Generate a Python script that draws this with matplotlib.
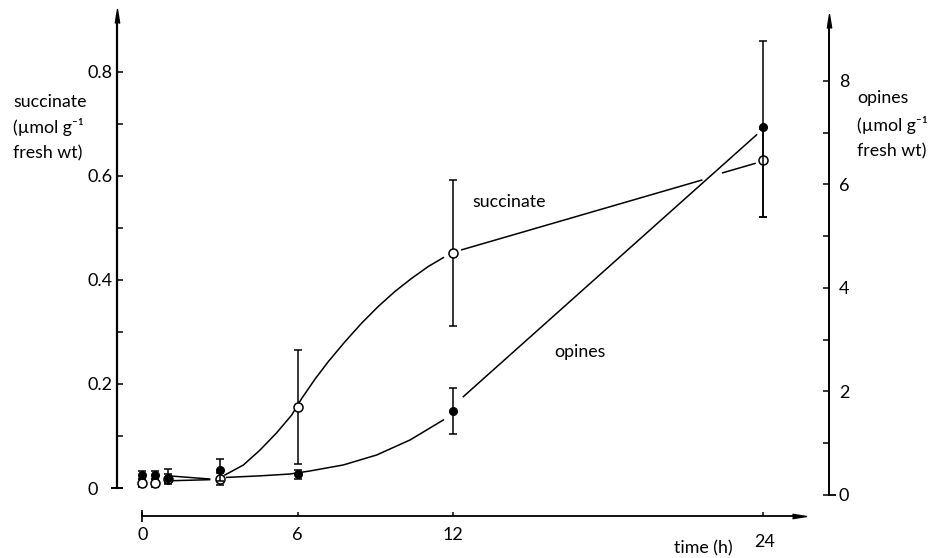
import matplotlib
matplotlib.use("Agg")
import matplotlib.pyplot as plt

plt.rcParams['font.family'] = ['Lato', 'DejaVu Sans']

# ---------------- data ----------------
times = [0, 0.5, 1, 3, 6, 12, 24]
succinate = [0.010, 0.010, 0.018, 0.017, 0.156, 0.452, 0.631]
succinate_err_low = [0.008, 0.008, 0.008, 0.012, 0.110, 0.140, 0.110]
succinate_err_high = [0.008, 0.008, 0.008, 0.012, 0.110, 0.140, 0.060]
opines = [0.39, 0.39, 0.33, 0.48, 0.41, 1.62, 7.12]
opines_err_low = [0.08, 0.08, 0.12, 0.21, 0.10, 0.45, 1.75]
opines_err_high = [0.08, 0.08, 0.17, 0.21, 0.08, 0.45, 1.66]

# hand-drawn fitted curves, drawn as segments
succ_curve_t = [[1.1, 2.6],
                [3.19, 3.9, 4.55, 5.19, 5.77, 6.16, 6.67, 7.19, 7.83, 8.48, 9.12, 9.77,
                 10.41, 11.06, 11.64],
                [12.35, 21.63],
                [22.44, 23.69]]
succ_curve_v = [[0.014, 0.016],
                [0.025, 0.044, 0.073, 0.106, 0.140, 0.172, 0.209, 0.243, 0.281, 0.317,
                 0.349, 0.378, 0.403, 0.426, 0.443],
                [0.458, 0.592],
                [0.606, 0.624]]
opi_curve_t = [[1.1, 2.6],
               [3.26, 4.55, 5.7, 6.48, 7.77, 9.06, 10.35, 11.64],
               [12.41, 23.75]]
opi_curve_v = [[0.367, 0.309],
               [0.34, 0.37, 0.405, 0.464, 0.58, 0.773, 1.063, 1.45],
               [1.90, 6.96]]

x_ticks = [0, 6, 12, 24]
x_ticklabels = ['0', '6', '12', '']
left_ticks = [0, 0.2, 0.4, 0.6, 0.8]
left_ticklabels = ['0', '0.2', '0.4', '0.6', '0.8']
left_minor = [0.1, 0.3, 0.5, 0.7]
right_ticks = [0, 2, 4, 6, 8]
right_ticklabels = ['0', '2', '4', '6', '8']
right_minor = [1, 3, 5, 7]

# ---------------- figure ----------------
W, H = 939, 558
fig = plt.figure(figsize=(W / 100, H / 100), dpi=100)

def fx(px):
    return px / W

def fy(py):
    return 1 - py / H

ax = fig.add_axes([fx(117), fy(516), fx(829) - fx(117), fy(10) - fy(516)])
ax.set_xlim(-0.98, 26.55)
ax.set_ylim(-0.0538, 0.919)
ax.patch.set_visible(False)

ax2 = ax.twinx()
ax2.set_ylim(-0.406, 9.372)

lw = 1.1
for t, v in zip(succ_curve_t, succ_curve_v):
    ax.plot(t, v, color='black', lw=lw, zorder=2)
for t, v in zip(opi_curve_t, opi_curve_v):
    ax2.plot(t, v, color='black', lw=lw, zorder=2)

ax.errorbar(times, succinate, yerr=[succinate_err_low, succinate_err_high],
            fmt='o', ms=6.5, mfc='white', mec='black', mew=1.1, ecolor='black',
            elinewidth=1.1, capsize=3.2, capthick=1.1, zorder=4)
ax2.errorbar(times, opines, yerr=[opines_err_low, opines_err_high],
             fmt='o', ms=5.5, mfc='black', mec='black', ecolor='black',
             elinewidth=1.1, capsize=3.2, capthick=1.1, zorder=5)

# ---------------- axes styling ----------------
for a in (ax, ax2):
    for s in a.spines.values():
        s.set_visible(False)

ax.spines['left'].set_visible(True)
ax.spines['left'].set_bounds(0, 0.907)
ax.spines['left'].set_linewidth(1.6)
ax.spines['bottom'].set_visible(True)
ax.spines['bottom'].set_bounds(0, 25.39)
ax.spines['bottom'].set_linewidth(1.3)
ax2.spines['right'].set_visible(True)
ax2.spines['right'].set_bounds(0, 9.16)
ax2.spines['right'].set_linewidth(1.4)

tfs = 13
ax.set_xticks(x_ticks)
ax.set_xticklabels(x_ticklabels)
ax.tick_params(axis='x', direction='in', length=3, width=1.1, pad=8, labelsize=tfs)

ax.set_yticks(left_ticks)
ax.set_yticklabels(left_ticklabels, ha='left')
ax.set_yticks(left_minor, minor=True)
ax.tick_params(axis='y', which='both', direction='in', length=4, width=1.1,
               pad=21, labelsize=tfs)

ax2.set_yticks(right_ticks)
ax2.set_yticklabels(right_ticklabels)
ax2.set_yticks(right_minor, minor=True)
ax2.tick_params(axis='y', which='both', direction='in', length=4, width=1.1,
                pad=7, labelsize=tfs)

# arrow heads
up = [(-0.32, -1), (0, 1), (0.32, -1)]
right = [(-1, -0.32), (1, 0), (-1, 0.32)]
ax.plot([0], [0.9876], transform=ax.transAxes, marker=up, ms=10,
        color='black', clip_on=False)
ax2.plot([1], [1 - 11 / 506], transform=ax2.transAxes, marker=up, ms=10,
         color='black', clip_on=False)
bx = ax.get_xaxis_transform()
ax.plot([25.39], [0], transform=bx, marker=right, ms=10, color='black',
        clip_on=False)
# small cross-ticks at axis origins
ax.plot([0], [0], transform=bx, marker='|', ms=8, mew=1.2, color='black', clip_on=False)
ly = ax.get_yaxis_transform()
ax.plot([0], [0], transform=ly, marker='_', ms=9, mew=1.4, color='black', clip_on=False)
ry = ax2.get_yaxis_transform()
ax2.plot([1.004], [0], transform=ry, marker='_', ms=6, mew=1.3, color='black', clip_on=False)

# ---------------- text ----------------
fs = 12.8
for txt, y in [('succinate', 106.7), ('(µmol g⁻¹', 132.7), ('fresh wt)', 158.3)]:
    fig.text(fx(13), fy(y), txt, fontsize=fs, va='baseline', ha='left')
for txt, y in [('opines', 103.3), ('(µmol g⁻¹', 130.7), ('fresh wt)', 156.7)]:
    fig.text(fx(857), fy(y), txt, fontsize=fs, va='baseline', ha='left')

fig.text(fx(472), fy(207.3), 'succinate', fontsize=fs, va='baseline', ha='left')
fig.text(fx(554), fy(356.7), 'opines', fontsize=fs, va='baseline', ha='left')
fig.text(fx(703), fy(553), 'time (h)', fontsize=fs, va='baseline', ha='center')
fig.text(fx(765), fy(546.7), '24', fontsize=tfs, va='baseline', ha='center')

fig.savefig('out.png', dpi=100, facecolor='white')
